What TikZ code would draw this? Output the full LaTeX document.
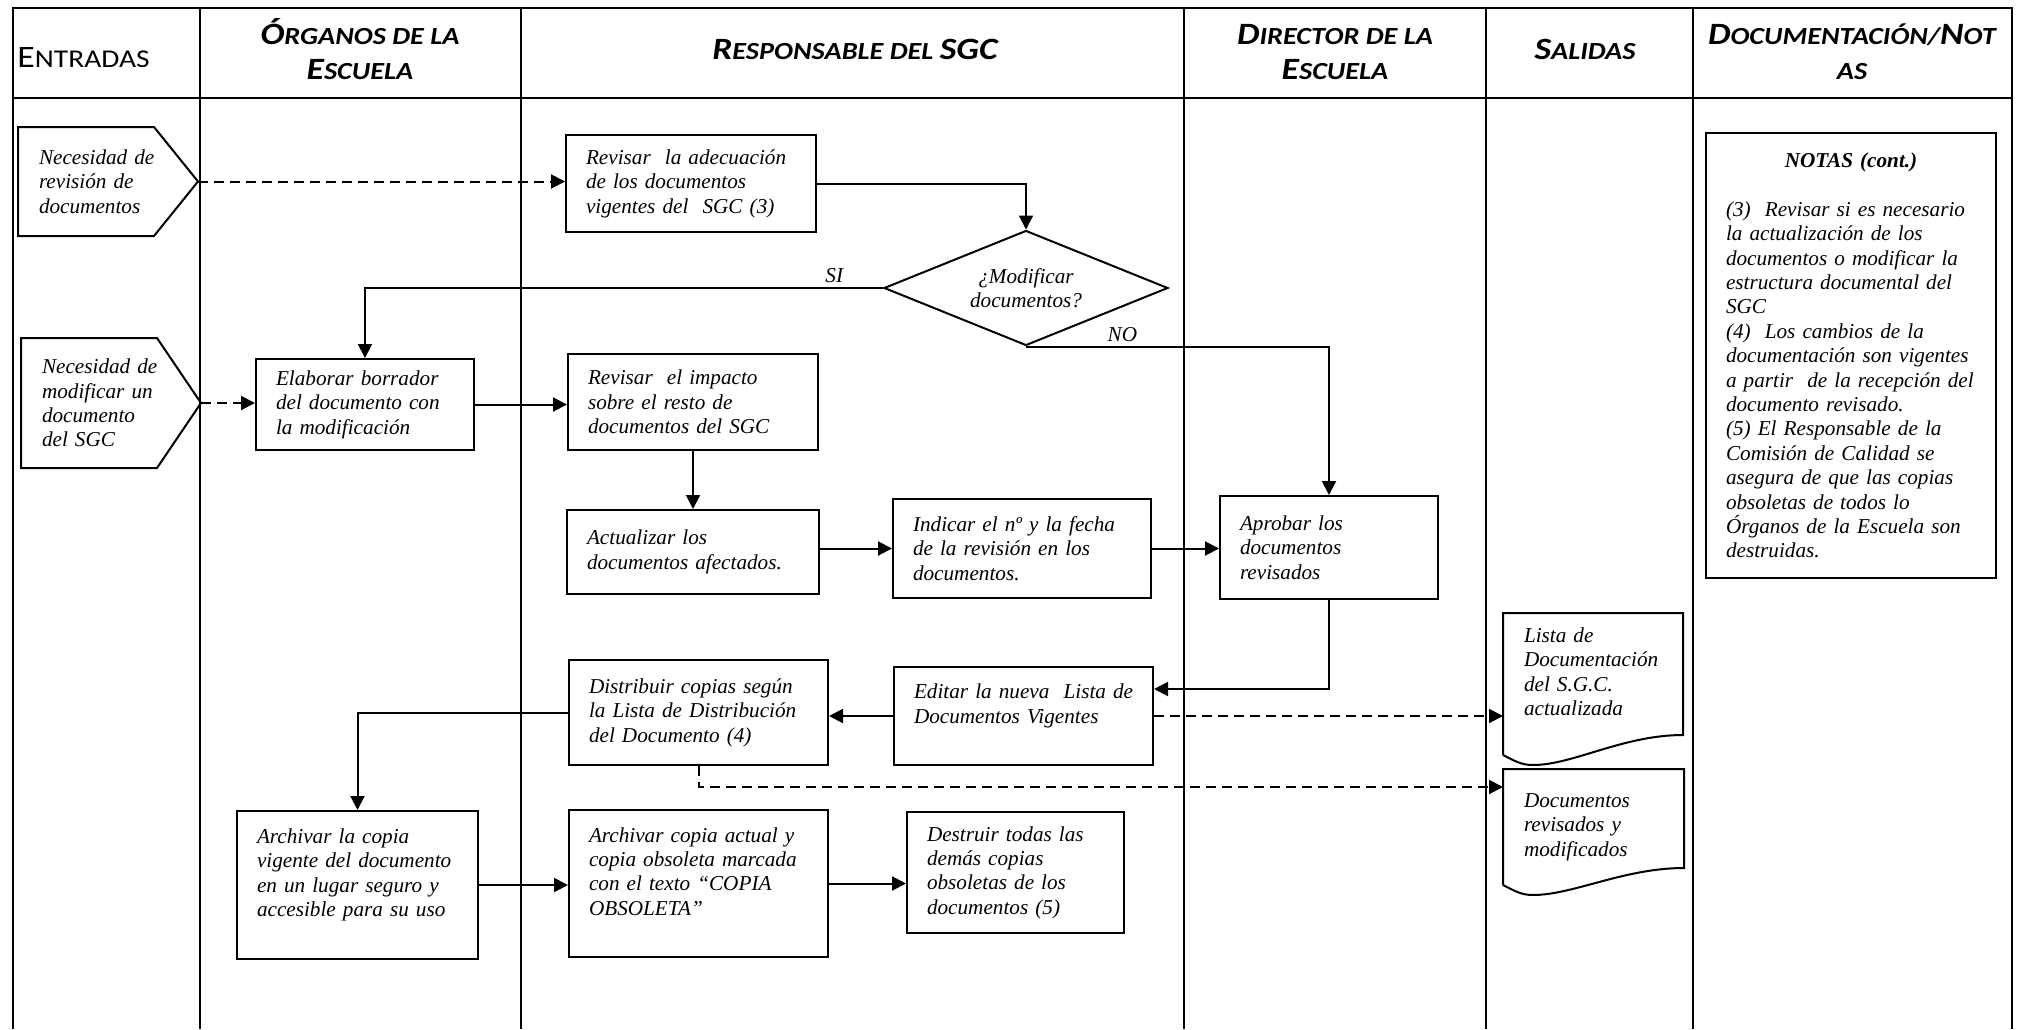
\documentclass[tikz,border=0pt]{standalone}
\usepackage{fontspec}
\setmainfont{Liberation Serif}
\newfontfamily\hdfont{Carlito}[FakeStretch=1.15]
\usetikzlibrary{arrows.meta,shapes.geometric}
\newcommand\hbig{\fontsize{15.5}{18.5}\selectfont}
\newcommand\hsml{\fontsize{12.3}{18.5}\selectfont}
\newcommand\docedge[2]{%
  \draw[shp] (#1.south west) -- (#1.north west) -- (#1.north east) -- ([yshift=#2]#1.south east)
    .. controls +(-60,0) and +(40,0) .. ([shift={(30,10)}]#1.south west)
    .. controls +(-12,0) and +(12,6) .. (#1.south west);}
\newcommand\entryedge[1]{%
  \draw[shp] (#1.north west) -- ([xshift=-22pt]#1.north east) -- (#1.east)
    -- ([xshift=-22pt]#1.south east) -- (#1.south west) -- cycle;}
\begin{document}
\begin{tikzpicture}[x=0.5pt,y=-0.5pt,
    shp/.style={line width=1pt},
    txt/.style={font=\fontsize{10.6}{12.2}\selectfont\itshape},
    proc/.style 2 args={draw, line width=1pt, txt, anchor=north west, inner xsep=0pt, inner ysep=2pt,
      align=left, text width=#1, minimum height=#2, execute at begin node={\leftskip=10pt}},
    inbox/.style 2 args={proc={#1}{#2}, draw=none},
    head/.style={font=\hdfont\bfseries\itshape, align=center, inner sep=0pt},
    arr/.style={line width=1pt, -{Triangle[length=7pt,width=7pt]}},
    dsh/.style={arr, dash pattern=on 5pt off 3pt},
    lbl/.style={txt, inner sep=2pt}]
  \useasboundingbox (0,0) rectangle (2025,1029);
  \draw[line width=1.2pt] (13,1029) -- (13,8) -- (2012,8) -- (2012,1029);
  \draw[line width=1.2pt] (13,98) -- (2012,98);
  \foreach \x in {200,521,1184,1486,1693}
    \draw[line width=0.7pt] (\x,8) -- (\x,1029);

  \node[head, anchor=base west, font=\hdfont] (hEnt) at (17,67)
    {{\fontsize{15.6}{17}\selectfont E}{\fontsize{12.8}{17}\selectfont NTRADAS}};
  \node[head, anchor=base] (hOrg) at (360,79) {\hbig Ó\hsml RGANOS DE LA\\[5.5pt]\hbig E\hsml SCUELA};
  \node[head, anchor=base] (hResp) at (855,59) {\hbig R\hsml ESPONSABLE DEL \hbig SGC};
  \node[head, anchor=base] (hDir) at (1335,79) {\hbig D\hsml IRECTOR DE LA\\[5.5pt]\hbig E\hsml SCUELA};
  \node[head, anchor=base] (hSal) at (1585,59) {\hbig S\hsml ALIDAS};
  \node[head, anchor=base] (hDoc) at (1852,79) {\hbig D\hsml OCUMENTACIÓN/\hbig N\hsml OT\\[5.5pt]\hsml AS};

  \node[inbox={89pt}{53.5pt}] (e1) at (18,127) {Necesidad de\\revisión de\\documentos};
  \entryedge{e1}
  \node[inbox={89pt}{64pt}] (e2) at (21,338) {Necesidad de\\modificar un\\documento\\del SGC};
  \entryedge{e2}

  \node[proc={125pt}{48.5pt}] (adecA) at (565,134) {Revisar~~la adecuación\\de los documentos\\vigentes del~~SGC (3)};
  \node[draw, shp, diamond, aspect=2.5, inner sep=0pt, minimum width=142pt, minimum height=57.5pt,
    txt, align=center] (dec) at (1026,288) {¿Modificar\\documentos?};
  \node[proc={109pt}{45.5pt}] (borrador) at (255,358) {Elaborar borrador\\del documento con\\la modificación};
  \node[proc={125pt}{48pt}] (impacto) at (567,353) {Revisar~~el impacto\\sobre el resto de\\documentos del SGC};
  \node[proc={126pt}{42pt}] (actualiza) at (566,509) {Actualizar los\\documentos afectados.};
  \node[proc={129pt}{49.5pt}] (indicar) at (892,498) {Indicar el nº y la fecha\\de la revisión en los\\documentos.};
  \node[proc={109pt}{51.5pt}] (aprobar) at (1219,495) {Aprobar los\\documentos\\revisados};
  \node[proc={129.5pt}{49pt}] (editar) at (893,666) {Editar la nueva~~Lista de\\Documentos Vigentes\\\mbox{}};
  \node[proc={129.5pt}{52.5pt}] (distribuir) at (568,659) {Distribuir copias según\\la Lista de Distribución\\del Documento (4)};
  \node[proc={120.5pt}{74pt}] (archivarV) at (236,810) {Archivar la copia\\vigente del documento\\en un lugar seguro y\\accesible para su uso\\\mbox{}};
  \node[proc={129.5pt}{73.5pt}] (archivarO) at (568,809) {Archivar copia actual y\\copia obsoleta marcada\\con el texto “COPIA\\OBSOLETA”\\\mbox{}};
  \node[proc={108.5pt}{60.5pt}] (destruir) at (906,811) {Destruir todas las\\demás copias\\obsoletas de los\\documentos (5)};

  \node[inbox={89pt}{70pt}] (lista) at (1503,613) {Lista de\\Documentación\\del S.G.C.\\actualizada\\\mbox{}};
  \docedge{lista}{10pt}
  \node[inbox={89.5pt}{57pt}] (revis) at (1503,769) {Documentos\\revisados y\\modificados};
  \docedge{revis}{8.5pt}

  \node[proc={145pt}{222.5pt}] (notas) at (1705,132) {\makebox[125pt]{\bfseries NOTAS (cont.)}\\[12.2pt]
    (3)~~Revisar si es necesario\\la actualización de los\\documentos o modificar la\\estructura documental del\\SGC\\
    (4)~~Los cambios de la\\documentación son vigentes\\a partir~~de la recepción del\\documento revisado.\\
    (5) El Responsable de la\\Comisión de Calidad se\\asegura de que las copias\\obsoletas de todos lo\\Órganos de la Escuela son\\destruidas.};

  \draw[dsh] (e1.east) -- (e1.east -| adecA.west);
  \draw[arr] (adecA.east) -| (dec.north);
  \draw[arr] (dec.west) -| node[lbl, pos=0.047, above] (si) {SI} (borrador.north);
  \draw[arr] (dec.south) -| node[lbl, pos=0.159, above] (no) {NO} (aprobar.north);
  \draw[dsh] (e2.east) -- (e2.east -| borrador.west);
  \draw[arr] (borrador.east) -- (borrador.east -| impacto.west);
  \draw[arr] (impacto.south) -- (actualiza.north);
  \draw[arr] (indicar.west -| actualiza.east) -- (indicar.west);
  \draw[arr] (indicar.east) -- (indicar.east -| aprobar.west);
  \draw[arr] (aprobar.south) |- ([yshift=-11.5pt]editar.north east);
  \draw[arr] (editar.west) -- (editar.west -| distribuir.east);
  \draw[dsh] (editar.east) -- (editar.east -| lista.west);
  \draw[arr] (distribuir.west) -| (archivarV.north);
  \draw[dsh] (distribuir.south) |- ([yshift=-9pt]revis.north west);
  \draw[arr] (archivarV.east) -- (archivarV.east -| archivarO.west);
  \draw[arr] (archivarO.east) -- (archivarO.east -| destruir.west);
\end{tikzpicture}
\end{document}
